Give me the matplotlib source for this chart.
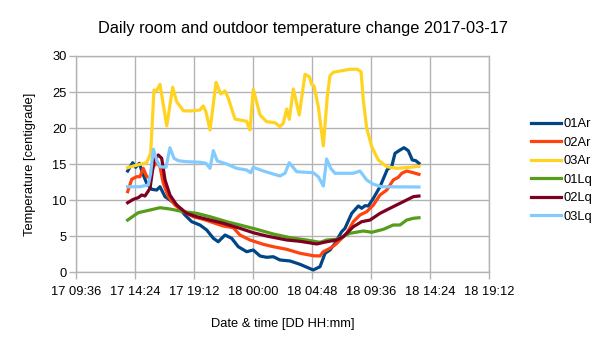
import numpy as np
import matplotlib
matplotlib.use("Agg")
import matplotlib.pyplot as plt
from matplotlib.ticker import FixedLocator, FuncFormatter

plt.rcParams["font.family"] = ["Liberation Sans", "DejaVu Sans"]

# time in hours since 2017-03-17 00:00, temperatures in centigrade
t_01ar = [13.78, 14.19, 14.43, 14.73, 15.00, 15.33, 15.74, 16.14, 16.41, 16.82, 17.22, 17.77,
          18.44, 18.99, 19.66, 20.21, 20.75, 21.15, 21.70, 22.24, 22.78, 23.46, 24.00, 24.55,
          25.09, 25.63, 26.17, 26.99, 27.80, 28.88, 29.43, 29.84, 30.24, 30.65, 31.19, 31.46,
          32.01, 32.55, 32.82, 33.09, 33.36, 33.77, 34.31, 34.91, 35.26, 35.53, 35.94, 36.26,
          36.61, 36.94, 37.22, 37.48]
v_01ar = [14.05, 15.20, 14.56, 15.12, 13.73, 12.34, 11.51, 11.41, 11.87, 10.49, 10.03, 9.33,
          7.95, 7.02, 6.56, 5.87, 4.72, 4.24, 5.17, 4.72, 3.55, 2.86, 3.09, 2.26,
          2.08, 2.16, 1.71, 1.57, 1.11, 0.32, 0.78, 2.64, 3.09, 4.02, 5.63, 6.10,
          8.18, 9.20, 8.88, 9.24, 9.20, 10.26, 11.87, 14.29, 14.65, 16.50, 16.96, 17.28,
          16.87, 15.58, 15.48, 15.12]

t_02ar = [13.78, 14.11, 14.51, 14.78, 15.05, 15.33, 15.60, 15.87, 16.14, 16.41, 16.68, 17.09,
          17.63, 18.31, 19.12, 19.93, 20.75, 21.56, 22.37, 22.92, 23.73, 24.82, 25.63, 26.72,
          27.80, 28.88, 29.43, 29.70, 30.24, 30.65, 31.06, 31.60, 32.14, 32.68, 33.23, 33.77,
          34.31, 34.86, 35.39, 35.80, 36.08, 36.48, 37.02, 37.48]
v_02ar = [11.18, 12.90, 13.26, 13.26, 14.42, 13.26, 13.12, 14.65, 15.20, 14.65, 12.34, 10.49,
          9.33, 8.41, 7.71, 7.35, 6.88, 6.42, 6.19, 5.17, 4.48, 3.88, 3.55, 3.19,
          2.64, 2.30, 2.26, 2.86, 3.33, 3.79, 4.48, 5.41, 7.02, 7.95, 8.41, 9.33,
          10.72, 11.41, 12.80, 13.18, 13.73, 14.05, 13.81, 13.59]

t_03ar = [13.78, 14.24, 15.33, 15.65, 15.92, 16.14, 16.41, 16.96, 17.44, 17.77, 18.31, 18.85,
          19.66, 19.93, 20.15, 20.48, 20.97, 21.35, 21.70, 21.97, 22.51, 23.46, 23.73, 24.00,
          24.55, 25.09, 25.77, 26.17, 26.44, 26.72, 26.93, 27.26, 27.74, 28.21, 28.56, 28.75,
          28.94, 29.29, 29.70, 30.02, 30.24, 30.51, 31.06, 31.87, 32.46, 32.77, 32.95, 33.23,
          33.64, 34.17, 34.86, 35.67, 36.75, 37.48]
v_03ar = [14.51, 14.74, 15.20, 16.50, 25.28, 25.19, 26.07, 20.29, 25.66, 23.66, 22.41, 22.37,
          22.51, 23.07, 22.27, 19.74, 26.35, 24.73, 25.15, 24.13, 21.26, 20.94, 19.74, 25.38,
          21.82, 20.89, 20.75, 20.19, 20.67, 22.65, 21.22, 25.42, 21.82, 27.46, 27.13, 26.07,
          25.84, 22.97, 17.52, 24.36, 27.27, 27.74, 27.92, 28.16, 28.16, 27.82, 23.90, 19.97,
          17.42, 15.58, 14.65, 14.42, 14.56, 14.70]

t_01lq = [13.78, 14.64, 15.60, 16.41, 17.22, 18.31, 19.40, 20.48, 21.84, 22.92, 24.28, 25.63,
          26.99, 28.35, 29.43, 29.97, 30.79, 31.87, 32.95, 33.64, 34.58, 35.39, 35.94, 36.48,
          37.02, 37.48]
v_01lq = [7.25, 8.27, 8.64, 8.96, 8.78, 8.41, 8.18, 7.71, 7.02, 6.56, 5.96, 5.31,
          4.80, 4.48, 4.16, 4.48, 4.58, 5.41, 5.73, 5.55, 5.96, 6.56, 6.56, 7.25,
          7.49, 7.57]

t_02lq = [13.78, 14.24, 14.64, 14.92, 15.19, 15.60, 15.92, 16.27, 16.55, 16.82, 17.22, 17.77,
          18.58, 19.40, 20.48, 21.56, 22.92, 24.00, 25.09, 26.72, 27.80, 29.16, 29.97, 30.79,
          31.32, 32.14, 32.82, 33.50, 34.31, 35.12, 35.94, 36.48, 37.02, 37.48]
v_02lq = [9.65, 10.12, 10.35, 10.72, 10.58, 11.65, 15.58, 16.27, 15.81, 12.80, 10.72, 9.33,
          8.18, 7.71, 7.25, 6.80, 6.10, 5.49, 5.03, 4.48, 4.30, 3.93, 4.24, 4.48,
          4.94, 6.32, 7.02, 7.25, 8.18, 8.88, 9.57, 10.03, 10.49, 10.58]

t_03lq = [13.78, 14.78, 15.46, 15.65, 15.87, 16.14, 16.41, 16.90, 17.22, 17.55, 17.90, 18.58,
          19.66, 20.15, 20.48, 20.75, 21.07, 21.84, 22.65, 23.46, 23.79, 24.00, 24.82, 25.63,
          26.17, 26.58, 26.93, 27.53, 28.88, 29.29, 29.70, 29.97, 30.30, 30.65, 32.14, 32.68,
          33.23, 33.77, 34.45, 37.48]
v_03lq = [11.87, 11.87, 12.11, 13.73, 17.06, 15.58, 14.65, 14.56, 17.28, 15.81, 15.48, 15.34,
          15.26, 15.12, 14.42, 16.87, 15.44, 15.02, 14.42, 14.19, 13.81, 14.56, 14.05, 13.63,
          13.36, 13.73, 15.20, 13.95, 13.81, 13.26, 11.97, 15.71, 14.42, 13.73, 13.73, 14.05,
          12.80, 12.21, 11.87, 11.83]

series = [
    ("01Ar", t_01ar, v_01ar, "#004586"),
    ("02Ar", t_02ar, v_02ar, "#ff420e"),
    ("03Ar", t_03ar, v_03ar, "#ffd320"),
    ("01Lq", t_01lq, v_01lq, "#579d1c"),
    ("02Lq", t_02lq, v_02lq, "#7e0021"),
    ("03Lq", t_03lq, v_03lq, "#83caff"),
]

x_ticks = [9.6, 14.4, 19.2, 24.0, 28.8, 33.6, 38.4, 43.2]
y_ticks = [0, 5, 10, 15, 20, 25, 30]


def fmt_time(h, pos=None):
    day = 17 + int(h // 24)
    m = int(round((h % 24) * 60))
    return f"{day} {m // 60:02d}:{m % 60:02d}"


GRID = "#b3b3b3"

fig = plt.figure(figsize=(6.05, 3.4), dpi=100)
ax = fig.add_axes([0.1261, 0.1991, 0.6826, 0.6362])

for name, t, v, c in series:
    ax.plot(t, v, color=c, lw=2.3, label=name, solid_joinstyle="round")

ax.set_xlim(x_ticks[0], x_ticks[-1])
ax.set_ylim(0, 30)
ax.xaxis.set_major_locator(FixedLocator(x_ticks))
ax.xaxis.set_major_formatter(FuncFormatter(fmt_time))
ax.set_yticks(y_ticks)
ax.grid(True, color=GRID, lw=1)
ax.set_axisbelow(True)
for s in ax.spines.values():
    s.set_color(GRID)
    s.set_linewidth(1)
ax.tick_params(direction="out", length=5, width=1, color=GRID, labelsize=9.3)
ax.tick_params(axis="x", pad=5)
ax.tick_params(axis="y", pad=2)

ax.set_xlabel("Date & time [DD HH:mm]", fontsize=9.3, labelpad=14)
ax.set_ylabel("Temperature [centigrade]", fontsize=9.3, labelpad=11.5)
fig.suptitle("Daily room and outdoor temperature change 2017-03-17", fontsize=11.8,
             x=0.5, y=0.915, va="center")

fig.legend(loc="center left", bbox_to_anchor=(531 / 605, 0.499), frameon=False,
           fontsize=9.3, handlelength=2.3, handletextpad=0.25, labelspacing=0.5,
           borderpad=0, borderaxespad=0)

fig.savefig("out.png", dpi=100, facecolor="white")
